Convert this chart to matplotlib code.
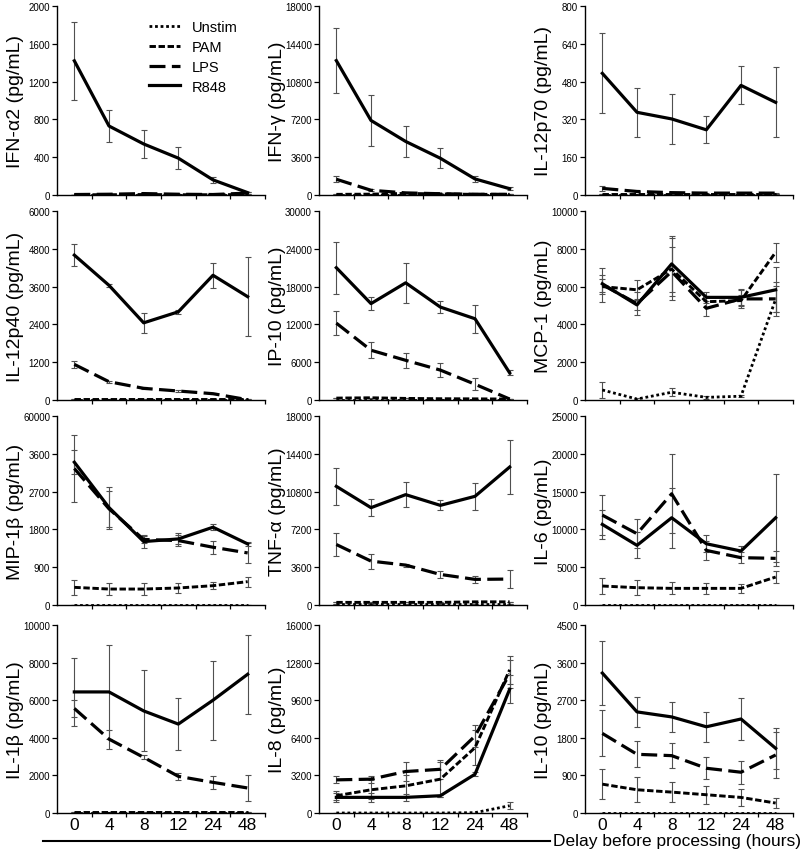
import numpy as np
import matplotlib
matplotlib.use('Agg')
import matplotlib.pyplot as plt
from matplotlib.lines import Line2D

plt.rcParams['font.family'] = ['Liberation Sans', 'DejaVu Sans']

delays = ['0', '4', '8', '12', '24', '48']
conditions = ['Unstim', 'PAM', 'LPS', 'R848']

# mean / error per condition, order: Unstim, PAM, LPS, R848
ifna2_mean = [[0, 0, 0, 0, 0, 0], [3, 3, 5, 3, 3, 5], [5, 8, 15, 8, 5, 20], [1420, 730, 540, 390, 160, 25]]
ifna2_err = [[0] * 6, [0] * 6, [0, 0, 5, 0, 0, 10], [410, 170, 145, 120, 35, 10]]

ifng_mean = [[0] * 6, [60, 80, 150, 100, 60, 60], [1500, 450, 200, 120, 70, 60], [12800, 7100, 5100, 3500, 1530, 600]]
ifng_err = [[0] * 6, [0] * 6, [300, 100, 50, 30, 20, 20], [3100, 2400, 1500, 950, 300, 150]]

il12p70_mean = [[2] * 6, [5] * 6, [28, 15, 10, 8, 8, 8], [515, 350, 322, 276, 464, 392]]
il12p70_err = [[0] * 6, [0] * 6, [10, 3, 2, 2, 2, 2], [170, 105, 105, 58, 80, 148]]

il12p40_mean = [[5] * 6, [20] * 6, [1130, 580, 370, 285, 200, 10], [4600, 3640, 2450, 2800, 3960, 3280]]
il12p40_err = [[0] * 6, [0] * 6, [120, 30, 30, 30, 20, 5], [360, 50, 320, 60, 400, 1250]]

ip10_mean = [[50] * 6, [300, 350, 250, 200, 180, 150], [12200, 7900, 6300, 4750, 2500, 150], [21000, 15300, 18600, 14750, 12900, 4300]]
ip10_err = [[0] * 6, [0] * 6, [1950, 1300, 1200, 1150, 950, 50], [4100, 1000, 3200, 1000, 2200, 400]]

mcp1_mean = [[530, 50, 410, 140, 200, 5330], [6000, 5830, 6930, 5200, 5260, 7820], [6100, 5100, 6800, 4850, 5350, 5350], [6150, 5030, 7200, 5430, 5430, 5830]]
mcp1_err = [[400, 50, 200, 80, 50, 700], [400, 500, 1650, 300, 300, 500], [900, 600, 1300, 400, 500, 900], [450, 280, 1500, 300, 400, 1200]]

mip1b_mean = [[10] * 6, [420, 380, 380, 405, 460, 556], [3250, 2290, 1560, 1534, 1375, 1240], [3400, 2320, 1510, 1573, 1852, 1454]]
mip1b_err = [[0] * 6, [170, 140, 140, 130, 90, 120], [800, 430, 80, 130, 150, 230], [290, 500, 150, 130, 70, 50]]

tnfa_mean = [[50] * 6, [250, 250, 250, 250, 300, 300], [5760, 4180, 3800, 2910, 2440, 2470], [11300, 9270, 10510, 9490, 10350, 13140]]
tnfa_err = [[0] * 6, [0] * 6, [1140, 710, 150, 350, 340, 840], [1750, 790, 1190, 480, 1310, 2590]]

il6_mean = [[20] * 6, [2510, 2290, 2200, 2200, 2200, 3700], [11890, 9430, 14710, 7220, 6260, 6170], [10660, 7890, 11540, 8100, 7140, 11540]]
il6_err = [[0] * 6, [1100, 1000, 800, 700, 600, 800], [2600, 1900, 5200, 1300, 700, 1000], [1900, 1700, 4000, 1100, 700, 5800]]

il1b_mean = [[20] * 6, [60] * 6, [5560, 3930, 2960, 1950, 1630, 1330], [6440, 6440, 5430, 4730, 6000, 7380]]
il1b_err = [[0] * 6, [0] * 6, [450, 500, 100, 200, 350, 700], [1800, 2500, 2150, 1400, 2100, 2100]]

il8_mean = [[0, 0, 0, 0, 30, 620], [1470, 1975, 2310, 2880, 5560, 12190], [2820, 2880, 3530, 3720, 6550, 11850], [1330, 1330, 1330, 1470, 3300, 10530]]
il8_err = [[0, 0, 0, 0, 0, 300], [400, 800, 900, 1500, 1500, 1200], [300, 300, 800, 800, 900, 1200], [400, 400, 300, 100, 150, 1200]]

il10_mean = [[10] * 6, [690, 556, 500, 437, 373, 238], [1905, 1405, 1373, 1071, 976, 1389], [3350, 2420, 2300, 2064, 2250, 1548]]
il10_err = [[0] * 6, [360, 300, 240, 220, 200, 120], [550, 310, 300, 260, 280, 560], [760, 360, 350, 360, 500, 490]]

panels = [
    ('IFN-α2 (pg/mL)', ifna2_mean, ifna2_err, 2000, None),
    ('IFN-γ (pg/mL)', ifng_mean, ifng_err, 18000, None),
    ('IL-12p70 (pg/mL)', il12p70_mean, il12p70_err, 800, None),
    ('IL-12p40 (pg/mL)', il12p40_mean, il12p40_err, 6000, None),
    ('IP-10 (pg/mL)', ip10_mean, ip10_err, 30000, None),
    ('MCP-1 (pg/mL)', mcp1_mean, mcp1_err, 10000, None),
    ('MIP-1β (pg/mL)', mip1b_mean, mip1b_err, 4500, '60000'),
    ('TNF-α (pg/mL)', tnfa_mean, tnfa_err, 18000, None),
    ('IL-6 (pg/mL)', il6_mean, il6_err, 25000, None),
    ('IL-1β (pg/mL)', il1b_mean, il1b_err, 10000, None),
    ('IL-8 (pg/mL)', il8_mean, il8_err, 16000, None),
    ('IL-10 (pg/mL)', il10_mean, il10_err, 4500, None),
]

styles = {
    'Unstim': dict(ls=(0, (1, 1)), lw=2.0),
    'PAM': dict(ls=(0, (2.2, 0.9)), lw=2.1),
    'LPS': dict(ls=(0, (5, 2)), lw=2.3),
    'R848': dict(ls='-', lw=2.3),
}

W, H = 800, 853
fig = plt.figure(figsize=(W / 100, H / 100), dpi=100)

col_left = [57, 319, 585]
ax_w = 208
rows = [(7, 196), (212, 401), (417, 606), (626, 814)]

x = np.arange(len(delays))
for i, (label, means, errs, ytop, toplabel) in enumerate(panels):
    r, c = divmod(i, 3)
    top, bot = rows[r]
    ax = fig.add_axes([col_left[c] / W, (H - bot) / H, ax_w / W, (bot - top) / H])
    for name, m, e in zip(conditions, means, errs):
        st = styles[name]
        ax.errorbar(x, m, yerr=e, color='black', ls=st['ls'], lw=st['lw'],
                    ecolor='#505050', elinewidth=0.8, capsize=2, capthick=0.8,
                    dash_capstyle='butt', label=name)
    ax.set_xlim(-0.5, 5.5)
    ax.set_ylim(0, ytop)
    yt = np.linspace(0, ytop, 6)
    labels = [f'{v:.0f}' for v in yt]
    if toplabel:
        labels[-1] = toplabel
    ax.set_yticks(yt)
    ax.set_yticklabels(labels)
    ax.set_xticks(np.arange(0.5, 6, 1))
    ax.set_xticklabels([])
    if r == 3:
        ax.set_xticks(x, minor=True)
        ax.set_xticklabels(delays, minor=True, fontsize=12.5)
        ax.tick_params(axis='x', which='minor', length=0, pad=3)
    for s in ('top', 'right'):
        ax.spines[s].set_visible(False)
    for s in ('left', 'bottom'):
        ax.spines[s].set_linewidth(1.0)
    ax.tick_params(axis='y', labelsize=7, length=3.5, width=0.9, pad=1.5)
    ax.tick_params(axis='x', which='major', length=3, width=0.9)
    ax.set_ylabel(label, fontsize=14)
    ax.yaxis.set_label_coords(-33 / ax_w, 0.5)

handles = [Line2D([], [], color='black', ls=styles[n]['ls'], lw=styles[n]['lw']) for n in conditions]
fig.legend(handles, conditions, loc='upper left', bbox_to_anchor=(149 / W, 1 - 21 / H),
           frameon=False, fontsize=10.5, handlelength=2.1, handletextpad=0.85,
           labelspacing=0.4, borderpad=0, borderaxespad=0)

yl = 1 - 842 / H
fig.add_artist(Line2D([43 / W, 550 / W], [yl, yl], color='black', lw=1.5))
fig.text(553 / W, yl, 'Delay before processing (hours)', fontsize=12.5, ha='left', va='center')

fig.savefig('out.png', dpi=100)
